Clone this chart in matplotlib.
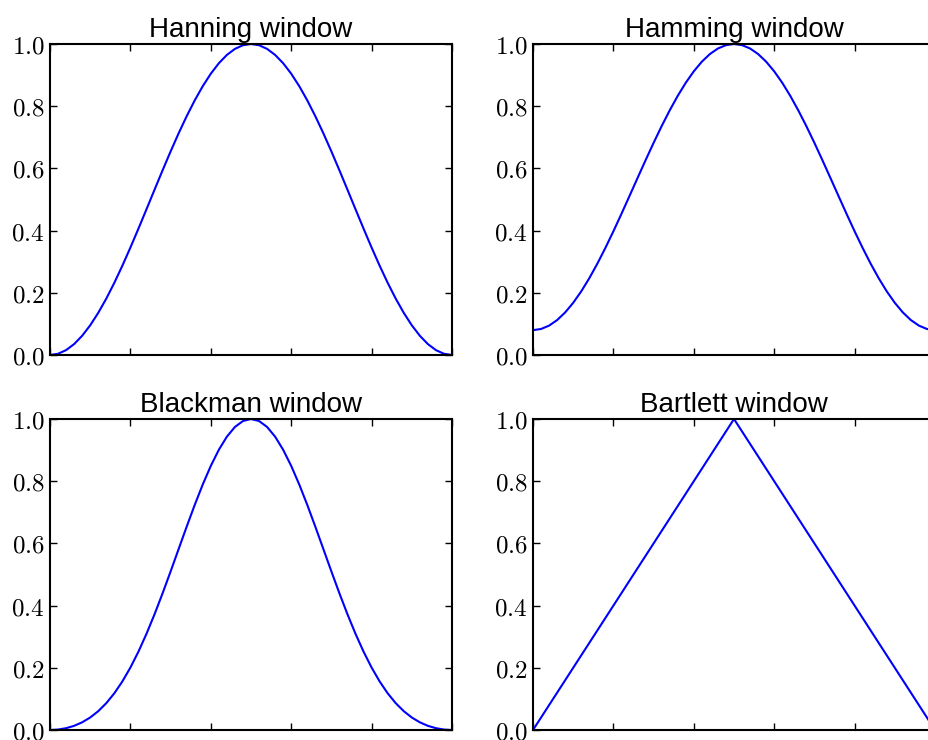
import matplotlib
matplotlib.use("Agg")
import matplotlib.pyplot as plt
from matplotlib.ticker import FuncFormatter

n = list(range(51))

hanning_half = [0.0, 0.00394, 0.01571, 0.03511, 0.06185, 0.09549, 0.13552, 0.18129,
                0.23209, 0.28711, 0.34549, 0.40631, 0.46860, 0.53140, 0.59369, 0.65451,
                0.71289, 0.76791, 0.81871, 0.86448, 0.90451, 0.93815, 0.96489, 0.98429,
                0.99606, 1.0]
hamming_half = [0.08, 0.08363, 0.09445, 0.11230, 0.13690, 0.16785, 0.20467, 0.24679,
                0.29352, 0.34414, 0.39785, 0.45381, 0.51112, 0.56888, 0.62619, 0.68215,
                0.73586, 0.78648, 0.83321, 0.87533, 0.91215, 0.94310, 0.96770, 0.98555,
                0.99637, 1.0]
blackman_half = [0.0, 0.00143, 0.00582, 0.01343, 0.02471, 0.04021, 0.06054, 0.08630,
                 0.11802, 0.15612, 0.20077, 0.25193, 0.30924, 0.37203, 0.43931, 0.50979,
                 0.58190, 0.65385, 0.72372, 0.78951, 0.84923, 0.90102, 0.94321, 0.97440,
                 0.99354, 1.0]
bartlett_half = [0.0, 0.04, 0.08, 0.12, 0.16, 0.20, 0.24, 0.28, 0.32, 0.36, 0.40, 0.44,
                 0.48, 0.52, 0.56, 0.60, 0.64, 0.68, 0.72, 0.76, 0.80, 0.84, 0.88, 0.92,
                 0.96, 1.0]

def full(half):
    return half + half[-2::-1]

titles = ["Hanning window", "Hamming window", "Blackman window", "Bartlett window"]
series = [full(hanning_half), full(hamming_half), full(blackman_half), full(bartlett_half)]
yticks = [0.0, 0.2, 0.4, 0.6, 0.8, 1.0]
xticks = [0, 10, 20, 30, 40, 50]

plt.rcParams['mathtext.fontset'] = 'cm'

fig = plt.figure(figsize=(9.29, 7.40), dpi=100, facecolor='white')
W = 402 / 929
H = 311 / 740
positions = [(50 / 929, 1 - 355 / 740), (533 / 929, 1 - 355 / 740),
             (50 / 929, 1 - 730 / 740), (533 / 929, 1 - 730 / 740)]

fmt = FuncFormatter(lambda v, p: r'$%.1f$' % v)

for (l, b), title, ys in zip(positions, titles, series):
    ax = fig.add_axes([l, b, W, H])
    ax.plot(n, ys, color='#0000ff', linewidth=1.5)
    ax.set_xlim(0, 50)
    ax.set_ylim(0, 1.0)
    ax.set_xticks(xticks)
    ax.set_xticklabels([])
    ax.set_yticks(yticks)
    ax.yaxis.set_major_formatter(fmt)
    ax.tick_params(direction='in', top=True, right=True, length=5, width=1,
                   labelsize=18, pad=4)
    for s in ax.spines.values():
        s.set_linewidth(1.5)
    ax.set_title(title, fontsize=20, family='Liberation Sans', pad=5)

fig.savefig("out.png", dpi=100, facecolor='white')
